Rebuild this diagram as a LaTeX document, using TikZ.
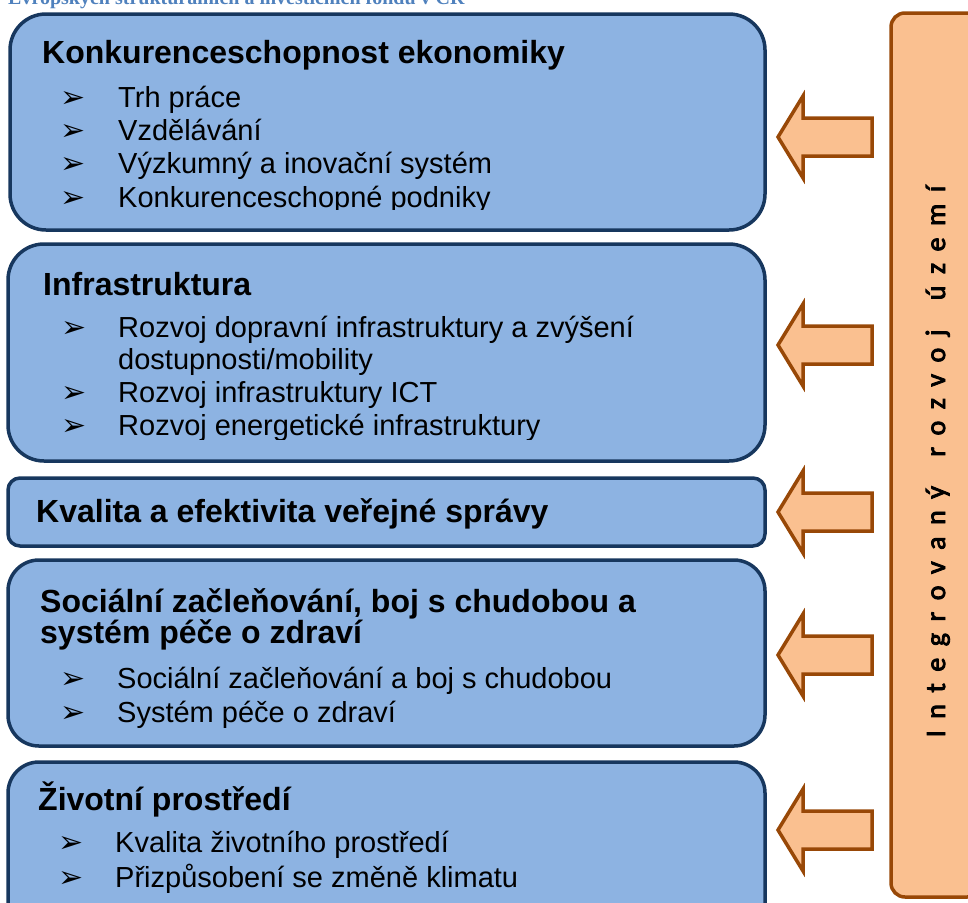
\documentclass[tikz,border=0pt]{standalone}
\usepackage{fontspec}
\setmainfont{Liberation Sans}
\newfontfamily\dejavu{DejaVu Sans}
\newfontfamily\titleserif{Liberation Serif}
\newfontfamily\vertfont{Carlito}[FakeBold=3]
\definecolor{boxfill}{HTML}{8DB3E2}
\definecolor{boxline}{HTML}{17375E}
\definecolor{orfill}{HTML}{FAC090}
\definecolor{orline}{HTML}{984807}
\definecolor{ttlblue}{HTML}{4F81BD}
\newdimen\lsamt
\lsamt=11.5pt
\def\lsp#1{\ifx\relax#1\else#1\kern\lsamt\expandafter\lsp\fi}
\begin{document}
\begin{tikzpicture}[x=1pt,y=-1pt,
  bluebox/.style={draw=boxline, fill=boxfill, line width=3.5pt, rectangle, inner sep=0, outer sep=0},
  orbox/.style={draw=orline, fill=orfill, line width=3.5pt, rectangle, inner sep=0, outer sep=0},
  ttl/.style={anchor=base west, inner sep=0, font=\bfseries\fontsize{32}{38}\selectfont},
  itm/.style={anchor=base west, inner sep=0, font=\fontsize{29}{33}\selectfont},
  bul/.style={anchor=base west, inner sep=0, font=\dejavu\fontsize{30}{34}\selectfont},
  barrow/.pic={\draw[orline, fill=orfill, line width=3.5pt, miter limit=10]
     (0,0) -- (25,-41) -- (25,-19) -- (94,-19) -- (94,19) -- (25,19) -- (25,41) -- cycle;}
]
\useasboundingbox (0,0) rectangle (968,902);
\clip (0,0) rectangle (968,902);

% header (cut off at top, as in the reference)
\node[anchor=base west, inner sep=0, font=\titleserif\bfseries\fontsize{20}{24}\selectfont, text=ttlblue] (hdr) at (8,5) {Evropských strukturálních a investičních fondů v ČR};

% blue boxes
\node[bluebox, rounded corners=36pt, minimum width=755pt, minimum height=216pt] (b1) at (387.5,122) {};
\node[bluebox, rounded corners=36pt, minimum width=757pt, minimum height=217pt] (b2) at (386.5,352.5) {};
\node[bluebox, rounded corners=12pt, minimum width=757pt, minimum height=68pt] (b3) at (386.5,512) {};
\node[bluebox, rounded corners=31pt, minimum width=757pt, minimum height=186pt] (b4) at (386.5,653) {};
\node[bluebox, rounded corners=31pt, minimum width=757pt, minimum height=190pt] (b5) at (386.5,857) {};

% orange vertical box
\node[orbox, rounded corners=14pt, minimum width=90pt, minimum height=884pt] (ir) at (936,455) {};
\node[rotate=90, anchor=base, inner sep=0, font=\vertfont\fontsize{28}{30}\selectfont] (irt) at (945,461.5) {\lsp Integrovaný~rozvoj~území\relax\unkern};

% block arrows
\pic at (778,137) {barrow};
\pic at (778,345) {barrow};
\pic at (778,512) {barrow};
\pic at (778,655) {barrow};
\pic at (778,830) {barrow};

% box 1 text
\begin{scope}
\clip (0,0) rectangle (968,209.5);
\node[ttl] (t1) at (42,63) {Konkurenceschopnost ekonomiky};
\foreach \y/\t [count=\i] in {107/Trh práce, 140/Vzdělávání, 173/Výzkumný a inovační systém, 207/Konkurenceschopné podniky}{
  \node[bul] (b1u\i) at (60,\y) {➢};
  \node[itm] (b1t\i) at (118,\y) {\t};
}
\end{scope}

% box 2 text
\begin{scope}
\clip (0,0) rectangle (968,439);
\node[ttl] (t2) at (43,295) {Infrastruktura};
\node[bul] (b2u1) at (61,337) {➢};
\node[itm] (b2t1) at (118,337) {Rozvoj dopravní infrastruktury a zvýšení};
\node[itm] (b2t1b) at (118,369) {dostupnosti/mobility};
\node[bul] (b2u2) at (61,402) {➢};
\node[itm] (b2t2) at (118,402) {Rozvoj infrastruktury ICT};
\node[bul] (b2u3) at (61,435) {➢};
\node[itm] (b2t3) at (118,435) {Rozvoj energetické infrastruktury};
\end{scope}

% box 3 text
\node[ttl] (t3) at (36,522) {Kvalita a efektivita veřejné správy};

% box 4 text
\node[ttl] (t4a) at (40,612) {Sociální začleňování, boj s chudobou a};
\node[ttl] (t4b) at (40,643) {systém péče o zdraví};
\node[bul] (b4u1) at (60,688) {➢};
\node[itm] (b4t1) at (117,688) {Sociální začleňování a boj s chudobou};
\node[bul] (b4u2) at (60,722) {➢};
\node[itm] (b4t2) at (117,722) {Systém péče o zdraví};

% box 5 text
\begin{scope}
\clip (0,0) rectangle (968,892);
\node[ttl] (t5) at (38,810) {Životní prostředí};
\node[bul] (b5u1) at (58,852) {➢};
\node[itm] (b5t1) at (115,852) {Kvalita životního prostředí};
\node[bul] (b5u2) at (58,887) {➢};
\node[itm] (b5t2) at (115,887) {Přizpůsobení se změně klimatu};
\end{scope}
\end{tikzpicture}
\end{document}
